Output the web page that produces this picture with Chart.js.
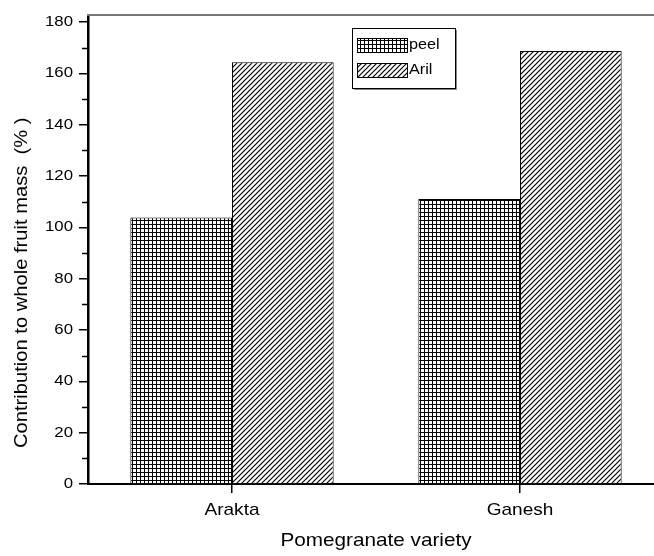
<!DOCTYPE html>
<html>
<head>
<meta charset="utf-8">
<script src="https://cdn.jsdelivr.net/npm/chart.js@4.4.1/dist/chart.umd.min.js"></script>
<style>
html,body{margin:0;padding:0;background:#fff;overflow:hidden;}
#wrap{width:664px;height:556px;}
</style>
</head>
<body>
<div id="wrap"><canvas id="c" width="664" height="556"></canvas></div>
<script>
const categories = ["Arakta", "Ganesh"];
const peelValues = [103.8, 111.0];
const arilValues = [164.3, 168.7];
const seriesNames = ["peel", "Aril"];
const yTicks = [0, 20, 40, 60, 80, 100, 120, 140, 160, 180];
const yMinorTicks = [10, 30, 50, 70, 90, 110, 130, 150, 170];
const xTitle = "Pomegranate variety";
const yTitle = "Contribution to whole fruit mass  (% )";

function gridPattern() {
  const s = 4, c = document.createElement('canvas');
  c.width = s; c.height = s;
  const g = c.getContext('2d');
  g.fillStyle = '#fff'; g.fillRect(0, 0, s, s);
  g.fillStyle = '#000';
  g.fillRect(0, 0, 1, s);
  g.fillRect(0, 0, s, 1);
  return g.createPattern(c, 'repeat');
}
function hatchPattern() {
  const s = 5, c = document.createElement('canvas');
  c.width = s; c.height = s;
  const g = c.getContext('2d');
  g.fillStyle = '#fff'; g.fillRect(0, 0, s, s);
  g.strokeStyle = '#000'; g.lineWidth = 1.2;
  g.beginPath();
  g.moveTo(-1, s + 1); g.lineTo(s + 1, -1);
  g.moveTo(-1, 1); g.lineTo(1, -1);
  g.moveTo(s - 1, s + 1); g.lineTo(s + 1, s - 1);
  g.stroke();
  return g.createPattern(c, 'repeat');
}
const peelFill = gridPattern();
const arilFill = hatchPattern();

const FONT = '"Liberation Sans", Arial, sans-serif';
const STRETCH = 1.12;

const canvas = document.getElementById('c');
const ctx0 = canvas.getContext('2d');
const origFill = CanvasRenderingContext2D.prototype.fillText;
ctx0.fillText = function (t, x, y) {
  this.save();
  this.translate(x, y);
  this.scale(STRETCH, 1);
  origFill.call(this, t, 0, 0);
  this.restore();
};

const decor = {
  id: 'decor',
  afterDraw(chart) {
    const ctx = chart.ctx, a = chart.chartArea, y = chart.scales.y;
    ctx.save();
    // top border
    ctx.strokeStyle = '#777'; ctx.lineWidth = 2;
    ctx.beginPath(); ctx.moveTo(a.left - 1, a.top); ctx.lineTo(chart.width, a.top); ctx.stroke();
    // minor ticks
    ctx.strokeStyle = '#000'; ctx.lineWidth = 1.5;
    yMinorTicks.forEach(v => {
      const py = Math.round(y.getPixelForValue(v)) + 0.5;
      ctx.beginPath(); ctx.moveTo(a.left - 6, py); ctx.lineTo(a.left, py); ctx.stroke();
    });
    // y axis title
    ctx.save();
    ctx.translate(27, 448);
    ctx.rotate(-Math.PI / 2);
    ctx.font = '18px ' + FONT; ctx.fillStyle = '#000';
    ctx.textAlign = 'left'; ctx.textBaseline = 'alphabetic';
    ctx.fillText(yTitle, 0, 0);
    ctx.restore();
    // legend
    const bx = 352, by = 28, bw = 103, bh = 60;
    ctx.fillStyle = '#fff'; ctx.fillRect(bx, by, bw, bh);
    ctx.strokeStyle = '#000'; ctx.lineWidth = 1;
    ctx.strokeRect(bx + 0.5, by + 0.5, bw, bh);
    ctx.strokeStyle = '#888'; ctx.lineWidth = 1;
    ctx.beginPath(); ctx.moveTo(bx + bw + 1.5, by + 2); ctx.lineTo(bx + bw + 1.5, by + bh + 1.5); ctx.lineTo(bx + 2, by + bh + 1.5); ctx.stroke();
    const fills = [peelFill, arilFill];
    const rows = [38, 63];
    ctx.font = '14.5px ' + FONT; ctx.textBaseline = 'middle'; ctx.textAlign = 'left';
    chart.data.datasets.forEach((ds, i) => {
      const sy = rows[i];
      ctx.fillStyle = fills[i]; ctx.fillRect(357, sy, 50, 14);
      ctx.strokeStyle = '#000'; ctx.strokeRect(357.5, sy + 0.5, 50, 14);
      ctx.fillStyle = '#000'; ctx.fillText(ds.label, 409, sy + 7);
    });
    ctx.restore();
  }
};

new Chart(canvas, {
  type: 'bar',
  data: {
    labels: categories,
    datasets: [
      { label: seriesNames[0], data: peelValues, backgroundColor: peelFill, borderColor: '#000', borderWidth: 1 },
      { label: seriesNames[1], data: arilValues, backgroundColor: arilFill, borderColor: '#000', borderWidth: 1 }
    ]
  },
  options: {
    responsive: false,
    animation: false,
    layout: { padding: { top: 15, right: 0, left: 0, bottom: 0 } },
    categoryPercentage: 0.706,
    barPercentage: 1.0,
    plugins: { legend: { display: false }, tooltip: { enabled: false } },
    scales: {
      x: {
        offset: true,
        grid: { offset: false, drawOnChartArea: false, tickLength: 9, color: '#000', lineWidth: 1.5 },
        border: { color: '#000', width: 2 },
        ticks: { color: '#000', font: { family: FONT, size: 17 }, padding: 7 },
        title: { display: true, text: xTitle, color: '#000', font: { family: FONT, size: 18.5 }, padding: { top: 14 } },
        afterFit(s) { s.height = 72; }
      },
      y: {
        min: 0, max: 182.7,
        afterBuildTicks(s) { s.ticks = yTicks.map(v => ({ value: v })); },
        grid: { drawOnChartArea: false, tickLength: 9, color: '#000', lineWidth: 1.5 },
        border: { color: '#000', width: 2.5 },
        ticks: { color: '#000', font: { family: FONT, size: 15 }, padding: 6 },
        afterFit(s) { s.width = 88; }
      }
    }
  },
  plugins: [decor]
});
</script>
</body>
</html>
